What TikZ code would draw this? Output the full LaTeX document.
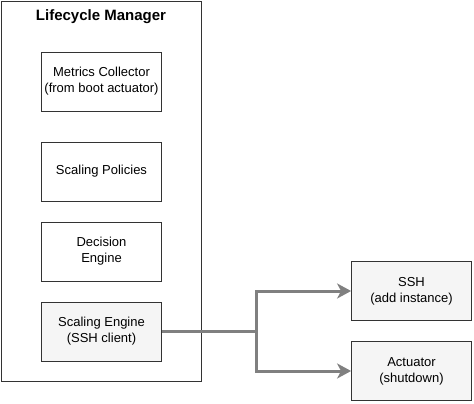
\documentclass[tikz,border=0pt]{standalone}
\usepackage{fontspec}
\setmainfont{Liberation Sans}
\usetikzlibrary{arrows.meta}
\definecolor{boxfill}{HTML}{F5F5F5}
\definecolor{linkgray}{HTML}{808080}
\definecolor{edge}{HTML}{333333}
\tikzset{
  box/.style={draw=edge, line width=0.8pt, minimum width=120pt, minimum height=59pt, align=center, font=\fontsize{13}{16}\selectfont, inner sep=0pt},
  graybox/.style={box, fill=boxfill},
  link/.style={draw=linkgray, line width=3pt, -{Stealth[length=14pt,width=15pt,inset=4pt]}}
}
\begin{document}
\begin{tikzpicture}[x=1pt,y=-1pt]
\useasboundingbox (0,0) rectangle (474,404);
\node[draw=edge, line width=0.8pt, minimum width=200pt, minimum height=380pt, inner sep=0pt] (lm) at (101,191) {};
\node[font=\fontsize{15}{18}\selectfont\bfseries] (title) at (101,17) {Lifecycle Manager};
\node[box] (mc) at (101.5,81.5) {Metrics Collector\\(from boot actuator)};
\node[box] (sp) at (101.5,171.5) {Scaling Policies};
\node[box] (de) at (101.5,251.5) {Decision\\Engine};
\node[graybox] (se) at (101.5,331.5) {Scaling Engine\\(SSH client)};
\node[graybox] (ssh) at (411.5,291) {SSH\\(add instance)};
\node[graybox] (act) at (411.5,371) {Actuator\\(shutdown)};
\coordinate (j) at (256,331.5);
\draw[link] (se.east) -- (j) |- (ssh.west);
\draw[link] (se.east) -- (j) |- (act.west);
\end{tikzpicture}
\end{document}
